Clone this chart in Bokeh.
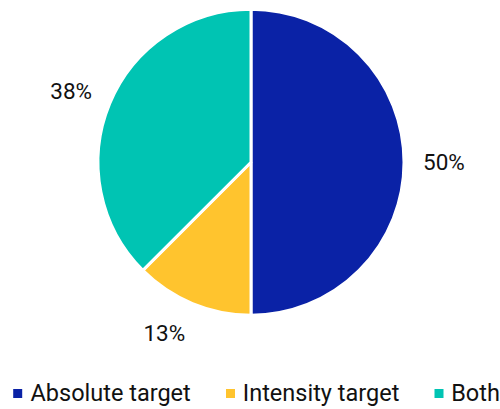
import math
from bokeh.plotting import figure
from bokeh.models import Range1d, ColumnDataSource
from bokeh.core.properties import value
from bokeh.embed import file_html
from bokeh.resources import INLINE

# ---- data ----
categories = ["Absolute target", "Intensity target", "Both"]
shares = [50.0, 12.5, 37.5]
labels = ["50%", "13%", "38%"]
colors = ["#0A22A6", "#FFC42E", "#00C4B3"]

# ---- layout ----
W, H = 500, 409
cx, cy, r = 250.5, H - 161.7, 153
lab_rx, lab_ry = 172, 185

p = figure(width=W, height=H, x_range=Range1d(0, W), y_range=Range1d(0, H),
           output_backend="svg", toolbar_location=None, min_border=0)
p.axis.visible = False
p.grid.visible = False
p.outline_line_color = None
p.background_fill_color = "white"

total = sum(shares)
starts, ends, lx, ly, al = [], [], [], [], []
cum = 0.0
for v in shares:
    a0 = math.pi / 2 - 2 * math.pi * cum / total
    a1 = math.pi / 2 - 2 * math.pi * (cum + v) / total
    starts.append(a1)
    ends.append(a0)
    mid = (a0 + a1) / 2
    lx.append(cx + lab_rx * math.cos(mid))
    ly.append(cy + lab_ry * math.sin(mid))
    al.append("left" if math.cos(mid) >= 0 else "right")
    cum += v

src = ColumnDataSource(dict(start=starts, end=ends, color=colors, lx=lx, ly=ly, label=labels, al=al))
p.wedge(x=cx, y=cy, radius=r, start_angle="start", end_angle="end", direction="anticlock",
        fill_color="color", line_color="white", line_width=3, source=src)
p.text(x="lx", y="ly", text="label", source=src, text_font=value("Roboto"),
       text_font_size="22.5px", text_align="al", text_baseline="middle", text_color="#111111")

# legend (manual)
mk_x = [17.2, 230.0, 438.5]
tx_x = [30.0, 242.3, 450.7]
p.scatter(x=mk_x, y=[16] * 3, marker="square", size=9, fill_color=colors, line_color=None)
p.text(x=tx_x, y=[16.5] * 3, text=categories, text_font=value("Roboto"), text_font_size="23.5px",
       text_align="left", text_baseline="middle", text_color="#111111")

open("out.html", "w").write(file_html(p, INLINE))
